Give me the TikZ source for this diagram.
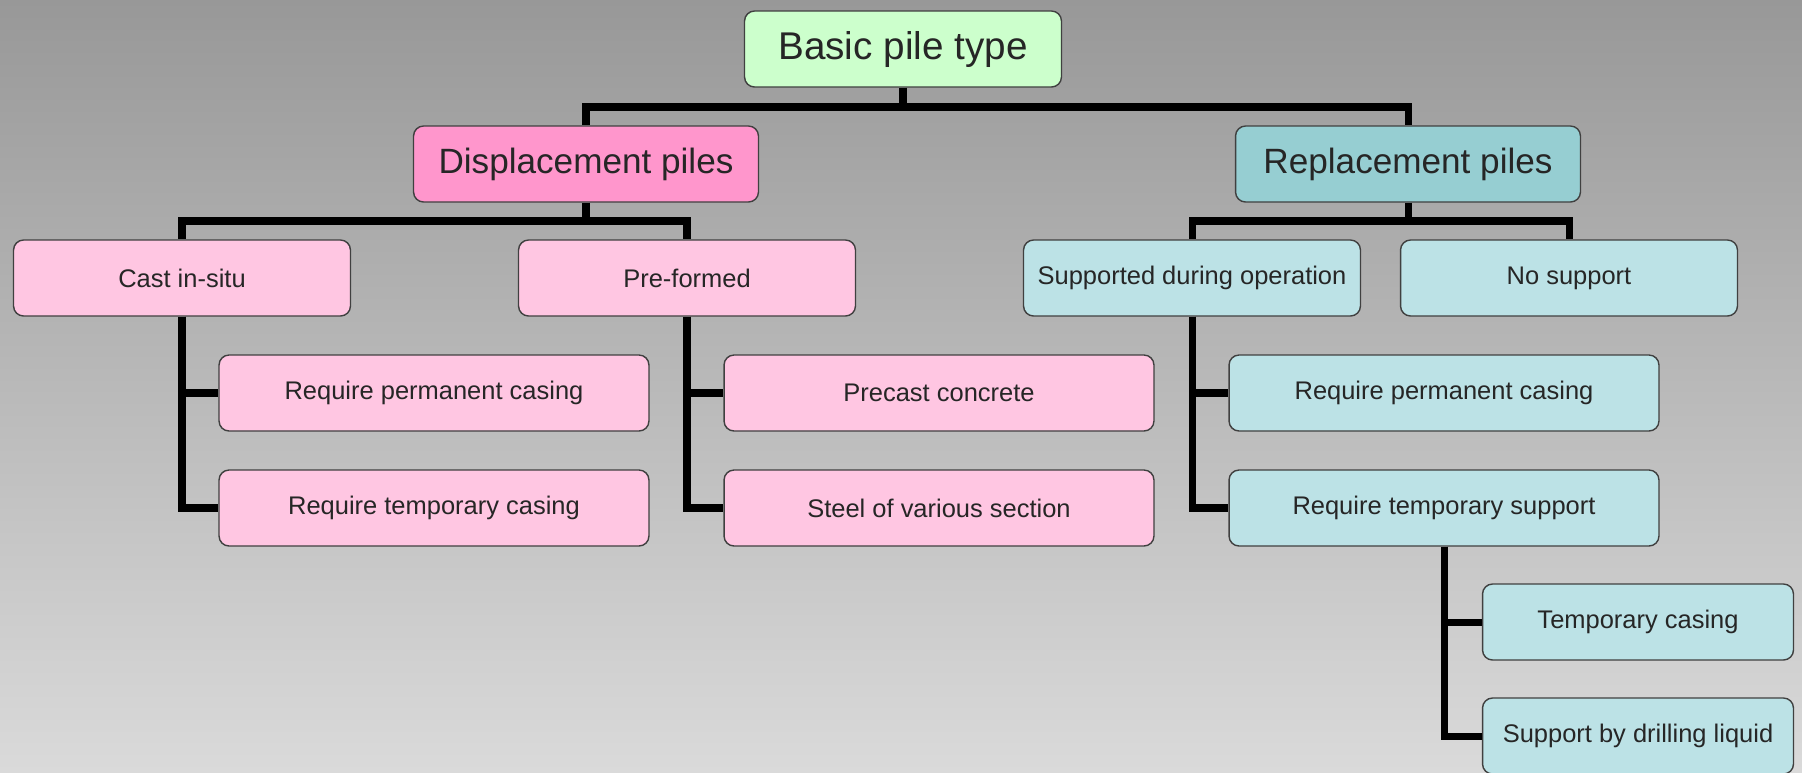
\documentclass[tikz,border=0pt]{standalone}
\usepackage{fontspec}
\setmainfont{Liberation Sans}
\usetikzlibrary{positioning}
\definecolor{bgtop}{RGB}{152,152,152}
\definecolor{bgbot}{RGB}{218,218,218}
\definecolor{rootgreen}{RGB}{204,255,204}
\definecolor{dispdark}{RGB}{255,150,204}
\definecolor{displight}{RGB}{255,198,226}
\definecolor{repdark}{RGB}{150,206,210}
\definecolor{replight}{RGB}{188,226,230}

\begin{document}
\begin{tikzpicture}[x=0.02cm, y=-0.02cm,
    box/.style={draw=black!75, line width=0.8pt, rounded corners=0.2cm, minimum height=1.52cm, align=center, inner sep=2pt, text=black!85},
    rootbox/.style={box, fill=rootgreen, minimum width=6.34cm, font=\fontsize{22}{26}\selectfont},
    headbox/.style={box, minimum width=6.9cm, font=\fontsize{20}{24}\selectfont},
    subbox/.style={box, minimum width=6.74cm, font=\fontsize{14.5}{17}\selectfont},
    leafbox/.style={box, minimum width=8.6cm, font=\fontsize{14.5}{17}\selectfont},
    tipbox/.style={box, minimum width=6.22cm, font=\fontsize{14.5}{17}\selectfont},
    conn/.style={line width=4pt}]
    \useasboundingbox (0,0) rectangle (1802,772);
    \shade[top color=bgtop, bottom color=bgbot] (0,0) rectangle (1802,772);

    % Root
    \node[rootbox] (root) at (903,49) {Basic pile type};

    % Displacement piles
    \node[headbox, fill=dispdark] (disp) at (586,164) {Displacement piles};
    \node[subbox, fill=displight] (cast) at (182,278) {Cast in-situ};
    \node[subbox, fill=displight] (pref) at (687,278) {Pre-formed};
    \node[leafbox, fill=displight] (castperm) at (434,393) {Require permanent casing};
    \node[leafbox, fill=displight] (casttemp) at (434,508) {Require temporary casing};
    \node[leafbox, fill=displight] (precast) at (939,393) {Precast concrete};
    \node[leafbox, fill=displight] (steel) at (939,508) {Steel of various section};

    % Replacement piles
    \node[headbox, fill=repdark] (repl) at (1408,164) {Replacement piles};
    \node[subbox, fill=replight] (supp) at (1192,278) {Supported during operation};
    \node[subbox, fill=replight] (nosupp) at (1569,278) {No support};
    \node[leafbox, fill=replight] (suppperm) at (1444,393) {Require permanent casing};
    \node[leafbox, fill=replight] (supptemp) at (1444,508) {Require temporary support};
    \node[tipbox, fill=replight] (tempcas) at (1638,622) {Temporary casing};
    \node[tipbox, fill=replight] (drill) at (1638,736) {Support by drilling liquid};

    % Connectors
    \coordinate (bus0) at (root.south |- 0,107);
    \coordinate (bus1) at (disp.south |- 0,221);
    \coordinate (bus2) at (repl.south |- 0,221);
    \draw[conn] (root.south) -- (bus0);
    \draw[conn] (bus0) -| (disp.north);
    \draw[conn] (bus0) -| (repl.north);
    \draw[conn] (disp.south) -- (bus1);
    \draw[conn] (bus1) -| (cast.north);
    \draw[conn] (bus1) -| (pref.north);
    \draw[conn] (repl.south) -- (bus2);
    \draw[conn] (bus2) -| (supp.north);
    \draw[conn] (bus2) -| (nosupp.north);
    \foreach \p/\c in {cast/castperm, cast/casttemp, pref/precast, pref/steel, supp/suppperm, supp/supptemp, supptemp/tempcas, supptemp/drill}
        \draw[conn] (\p.south) |- (\c.west);
\end{tikzpicture}
\end{document}
